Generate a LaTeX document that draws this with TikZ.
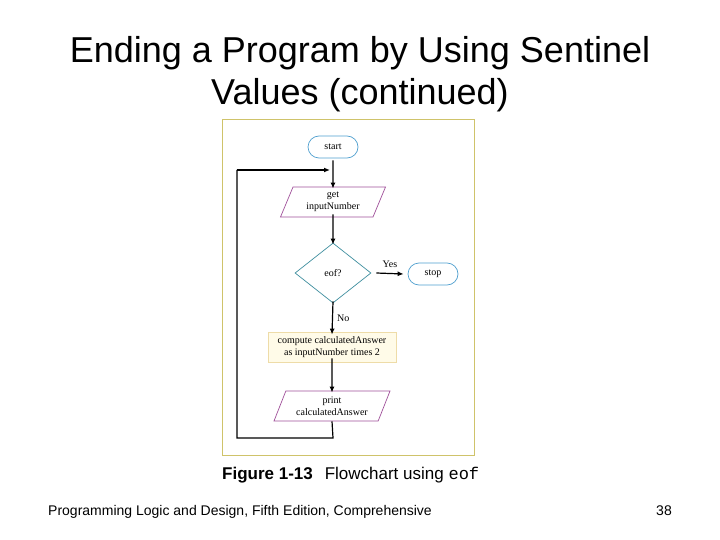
\documentclass[tikz,border=0pt]{standalone}
\usepackage{fontspec}
\setmainfont{Liberation Sans}
\newfontfamily\figserif{Liberation Serif}
\newfontfamily\figmono{Liberation Mono}
\usetikzlibrary{shapes.geometric,arrows.meta}
\definecolor{frameC}{HTML}{CFC36A}
\definecolor{termC}{HTML}{4F9FCF}
\definecolor{decC}{HTML}{3F8F9F}
\definecolor{ioC}{HTML}{A0509A}
\definecolor{procFill}{HTML}{FFFBE8}
\definecolor{procC}{HTML}{EEDCA8}
\tikzset{
  txt/.style={font=\figserif\fontsize{10}{11.5}\selectfont, align=center, inner sep=0pt},
  term/.style={txt, draw=termC, line width=0.7pt, rounded corners=11pt, minimum width=50pt, minimum height=22pt},
  io/.style={txt, draw=ioC, line width=0.7pt, trapezium, trapezium stretches body, trapezium left angle=57, trapezium right angle=123, minimum height=30pt},
  dec/.style={txt, draw=decC, line width=0.7pt, diamond, minimum width=76pt, minimum height=60pt, aspect=1.27},
  proc/.style={txt, draw=procC, fill=procFill, line width=0.7pt, minimum width=128pt, minimum height=30pt},
  flow/.style={draw=black, line width=1.2pt, -{Latex[length=6pt,width=5pt]}},
  line/.style={draw=black, line width=1.2pt},
  lbl/.style={font=\figserif\fontsize{10}{11.5}\selectfont, inner sep=0pt}
}
\begin{document}
\begin{tikzpicture}[x=1pt,y=-1pt]
\useasboundingbox (0,0) rectangle (720,540);
\fill[white] (0,0) rectangle (720,540);
% title
\node[font=\fontsize{36}{42}\selectfont, align=center] (title) at (360,74) {Ending a Program by Using Sentinel\\Values (continued)};
% frame
\draw[frameC, line width=1pt] (222,120) rectangle (474,455);
% nodes
\node[term] (start) at (333,147) {start};
\node[io, minimum width=105pt] (get) at (333,202) {get\\inputNumber};
\node[dec] (eof) at (333,273) {eof?};
\node[term] (stop) at (433,274) {stop};
\node[proc] (comp) at (332,347) {compute calculatedAnswer\\as inputNumber times 2};
\node[io, minimum width=116pt] (print) at (332,406) {print\\calculatedAnswer};
\coordinate (loopin) at (333,170);
\coordinate (c1) at (333,438);
\coordinate (c2) at (237,438);
\coordinate (c3) at (237,170);
% connectors
\draw[flow] (start.south) ++(0,2) -- ([yshift=-2pt]get.north);
\draw[flow] ([yshift=3pt]get.south) -- ([yshift=-2pt]eof.north);
\draw[flow] ([xshift=5pt]eof.east) -- node[lbl, above=5pt] (yes) {Yes} ([xshift=-4pt]stop.west);
\draw[flow] ([yshift=2pt]eof.south) -- node[lbl, right=4pt] (no) {No} ([yshift=-3pt]comp.north);
\draw[flow] ([yshift=4pt]comp.south) -- ([yshift=-2pt]print.north);
\draw[line] (print.south) -- (c1) -- (c2) -- (c3);
\draw[flow] (c3) -- ([xshift=-3pt]loopin);
% caption
\node[anchor=base west, inner sep=0pt, font=\fontsize{17}{20}\selectfont] (cap) at (222,479) {\textbf{Figure 1-13}\hspace{0.7em}Flowchart using {\figmono eof}};
% footer
\node[anchor=base west, inner sep=0pt, font=\fontsize{14}{16}\selectfont] (foot) at (48,515) {Programming Logic and Design, Fifth Edition, Comprehensive};
\node[anchor=base east, inner sep=0pt, font=\fontsize{14}{16}\selectfont] (page) at (672,515) {38};
\end{tikzpicture}
\end{document}
